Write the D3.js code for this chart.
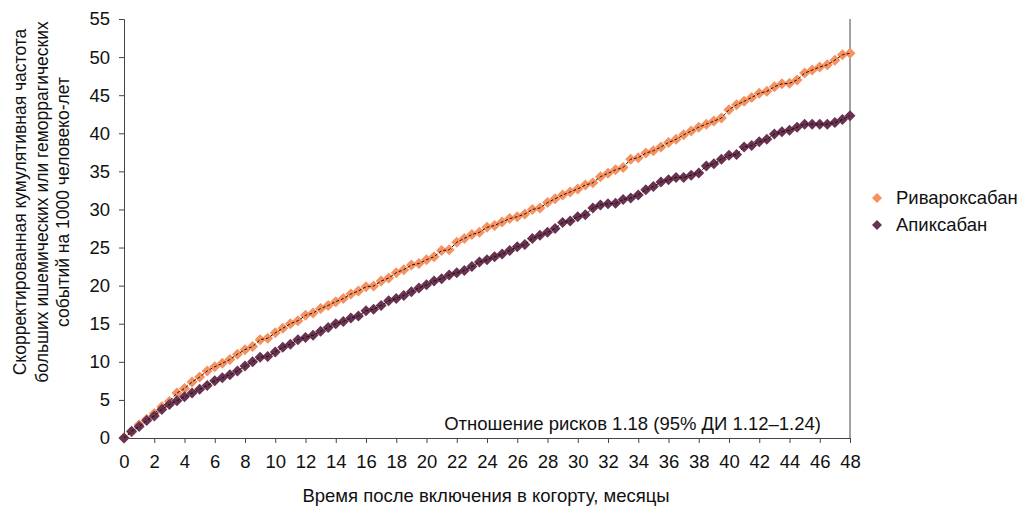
<!DOCTYPE html>
<html lang="ru">
<head>
<meta charset="utf-8">
<title>Кумулятивная частота</title>
<script src="https://cdn.jsdelivr.net/npm/d3@7"></script>
<style>
    body { margin: 0; background: #fff; }
    text { font-family: "Liberation Sans", Arial, sans-serif; fill: #111; }
</style>
</head>
<body>
<script>
    // months 0..48 step 0.5
    var months = d3.range(0, 48.01, 0.5);

    var rivaroxaban = [
        0, 0.8, 1.75, 2.45, 3.2, 4.1, 4.8, 5.9, 6.5, 7.35, 8.0, 8.8, 9.35, 9.8, 10.3, 11.0,
        11.6, 12.0, 12.9, 13.1, 13.8, 14.4, 15.0, 15.4, 16.1, 16.4, 17.0, 17.4, 17.9, 18.3, 18.9, 19.3,
        19.85, 19.95, 20.6, 21.0, 21.7, 22.1, 22.7, 22.9, 23.4, 23.8, 24.6, 24.7, 25.7, 26.2, 26.7, 27.0,
        27.65, 27.9, 28.35, 28.8, 29.05, 29.4, 30.0, 30.2, 30.9, 31.4, 31.9, 32.3, 32.7, 33.2, 33.5, 34.3,
        34.75, 35.2, 35.5, 36.6, 36.8, 37.4, 37.7, 38.2, 38.8, 39.2, 39.8, 40.3, 40.8, 41.2, 41.6, 42.0,
        43.1, 43.75, 44.2, 44.7, 45.25, 45.5, 46.1, 46.5, 46.55, 47.0, 47.9, 48.3, 48.7, 49.0, 49.6, 50.3,
        50.5
    ];

    var apixaban = [
        0, 0.9, 1.5, 2.3, 2.9, 3.75, 4.4, 4.9, 5.4, 5.9, 6.4, 6.9, 7.5, 7.9, 8.3, 8.8,
        9.45, 10.0, 10.6, 10.7, 11.3, 11.9, 12.3, 12.9, 13.2, 13.5, 14.0, 14.5, 15.0, 15.3, 15.75, 16.0,
        16.7, 16.9, 17.4, 18.0, 18.3, 18.7, 19.2, 19.7, 20.1, 20.6, 20.9, 21.4, 21.7, 22.0, 22.5, 23.1,
        23.4, 23.8, 24.15, 24.6, 25.1, 25.4, 26.2, 26.6, 27.0, 27.5, 28.3, 28.5, 29.05, 29.3, 30.2, 30.6,
        30.75, 30.8, 31.3, 31.5, 31.9, 32.6, 33.0, 33.6, 33.9, 34.2, 34.2, 34.5, 34.8, 35.7, 36.0, 36.6,
        37.1, 37.2, 38.2, 38.4, 38.9, 39.2, 39.9, 40.2, 40.4, 40.8, 41.2, 41.2, 41.2, 41.2, 41.4, 41.8,
        42.3
    ];

    var xTicks = d3.range(0, 49, 2);
    var yTicks = d3.range(0, 56, 5);

    var seriesNames = ["Ривароксабан", "Апиксабан"];
    var seriesColors = ["#f7915f", "#6a3251"];

    var w = 1020, h = 508;
    var margin = {left: 124, right: 170, top: 19, bottom: 70};
    var fs = "18.5px";

    var svg = d3.select("body").append("svg")
        .attr("width", w)
        .attr("height", h);

    var x = d3.scaleLinear().domain([0, 48]).range([margin.left, w - margin.right]);
    var y = d3.scaleLinear().domain([0, 55]).range([h - margin.bottom, margin.top]);

    // axes
    var xAxis = svg.append("g")
        .attr("transform", "translate(0," + y(0) + ")")
        .call(d3.axisBottom(x).tickValues(xTicks).tickSize(5).tickPadding(12).tickFormat(d3.format("d")));
    var yAxis = svg.append("g")
        .attr("transform", "translate(" + x(0) + ",0)")
        .call(d3.axisLeft(y).tickValues(yTicks).tickSize(5).tickPadding(9).tickFormat(d3.format("d")));

    [xAxis, yAxis].forEach(function (g) {
        g.select(".domain").attr("stroke", "#444");
        g.selectAll(".tick line").attr("stroke", "#444");
        g.selectAll("text")
            .attr("font-family", "Liberation Sans, Arial, sans-serif")
            .attr("font-size", fs)
            .attr("fill", "#111");
    });

    // right border of plot area
    svg.append("line")
        .attr("x1", x(48)).attr("x2", x(48))
        .attr("y1", y(55)).attr("y2", y(0))
        .attr("stroke", "#444");

    var diamond = function (r) {
        return "M0," + (-r) + "L" + r + ",0L0," + r + "L" + (-r) + ",0Z";
    };

    var line = d3.line()
        .x(function (d, i) { return x(months[i]); })
        .y(function (d) { return y(d); });

    [rivaroxaban, apixaban].forEach(function (data, k) {
        var g = svg.append("g");
        g.selectAll("path.pt")
            .data(data)
            .enter()
            .append("path")
            .attr("class", "pt")
            .attr("d", diamond(5.5))
            .attr("transform", function (d, i) {
                return "translate(" + x(months[i]) + "," + y(d) + ")";
            })
            .attr("fill", seriesColors[k]);
        g.append("path")
            .datum(data)
            .attr("d", line)
            .attr("fill", "none")
            .attr("stroke", "#111")
            .attr("stroke-width", 1)
            .attr("stroke-dasharray", "3,2");
    });

    // legend
    var legend = svg.append("g");
    seriesNames.forEach(function (name, k) {
        var ly = 198 + k * 27;
        legend.append("path")
            .attr("d", diamond(5))
            .attr("transform", "translate(877," + ly + ")")
            .attr("fill", seriesColors[k]);
        legend.append("text")
            .attr("x", 896)
            .attr("y", ly)
            .attr("dy", "0.35em")
            .attr("font-size", fs)
            .text(name);
    });

    // annotation
    svg.append("text")
        .attr("x", 821)
        .attr("y", 430)
        .attr("text-anchor", "end")
        .attr("font-size", fs)
        .text("Отношение рисков 1.18 (95% ДИ 1.12–1.24)");

    // axis titles
    svg.append("text")
        .attr("x", 486)
        .attr("y", 502)
        .attr("text-anchor", "middle")
        .attr("font-size", fs)
        .text("Время после включения в когорту, месяцы");

    var yTitle = ["Скорректированная кумулятивная частота",
        "больших ишемических или геморрагических",
        "событий на 1000 человеко-лет"];
    svg.append("text")
        .attr("transform", "translate(26,202) rotate(-90)")
        .attr("text-anchor", "middle")
        .attr("font-size", "17.5px")
        .selectAll("tspan")
        .data(yTitle)
        .enter()
        .append("tspan")
        .attr("x", 0)
        .attr("dy", function (d, i) { return i === 0 ? 0 : 21.5; })
        .text(function (d) { return d; });
</script>
</body>
</html>
